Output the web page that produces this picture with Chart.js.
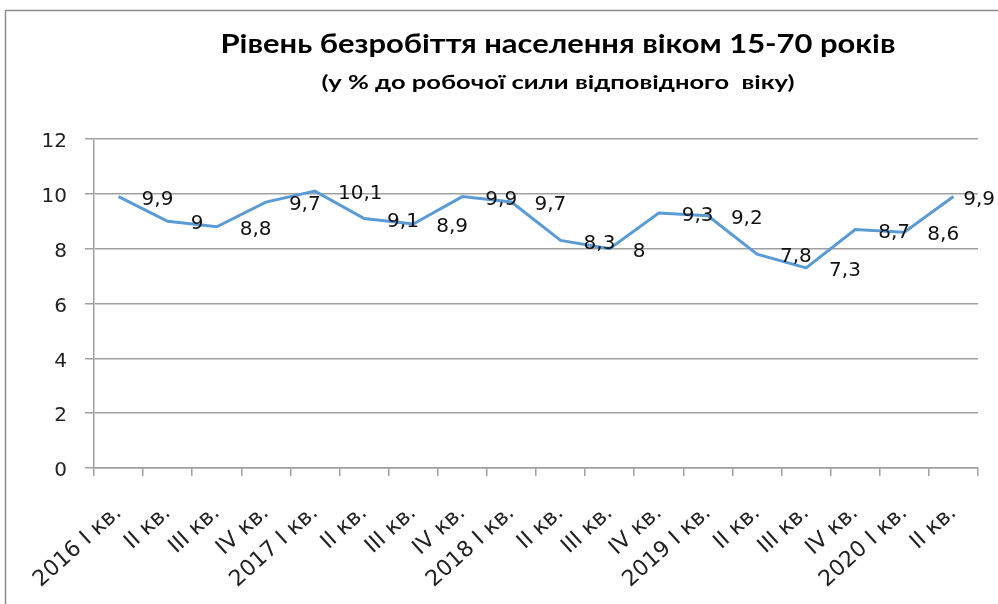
<!DOCTYPE html>
<html>
<head>
<meta charset="utf-8">
<script src="https://cdn.jsdelivr.net/npm/chart.js@4.4.1/dist/chart.umd.min.js"></script>
<style>
  html, body { margin: 0; padding: 0; background: #ffffff; }
  #wrap { width: 998px; height: 604px; position: relative; }
</style>
</head>
<body>
<div id="wrap"><canvas id="c" width="998" height="604"></canvas></div>
<script>
const titleText = 'Рівень безробіття населення віком 15-70 років';
const subtitleText = '(у % до робочої сили відповідного  віку)';
const categories = ['2016 I кв.', 'II кв.', 'III кв.', 'IV кв.', '2017 I кв.', 'II кв.', 'III кв.', 'IV кв.',
  '2018 I кв.', 'II кв.', 'III кв.', 'IV кв.', '2019 I кв.', 'II кв.', 'III кв.', 'IV кв.', '2020 I кв.', 'II кв.'];
const unemployment = [9.9, 9.0, 8.8, 9.7, 10.1, 9.1, 8.9, 9.9, 9.7, 8.3, 8.0, 9.3, 9.2, 7.8, 7.3, 8.7, 8.6, 9.9];
const yTicks = { min: 0, max: 12, step: 2 };

function fmt(v) { return String(v).replace('.', ','); }

const framePlugin = {
  id: 'frame',
  beforeDraw(chart) {
    const ctx = chart.ctx;
    ctx.save();
    ctx.fillStyle = '#ffffff';
    ctx.fillRect(0, 0, chart.width, chart.height);
    ctx.strokeStyle = '#8c8c8c';
    ctx.lineWidth = 1.5;
    ctx.strokeRect(5.5, 10.5, chart.width + 20, chart.height + 20);
    ctx.restore();
  },
  afterDraw(chart) {
    const ctx = chart.ctx;
    function drawFit(text, font, cx, cy, targetW) {
      ctx.save();
      ctx.font = font;
      ctx.fillStyle = '#000000';
      ctx.textAlign = 'center';
      ctx.textBaseline = 'alphabetic';
      const w = ctx.measureText(text).width;
      const sx = targetW / w;
      ctx.translate(cx, cy);
      ctx.scale(sx, 1);
      ctx.fillText(text, 0, 0);
      ctx.restore();
    }
    drawFit(titleText, 'bold 26px Lato', 558, 53, 675);
    drawFit(subtitleText, 'bold 18px Lato', 558, 89, 473);
  }
};

const labelPlugin = {
  id: 'valueLabels',
  afterDatasetsDraw(chart) {
    const ctx = chart.ctx;
    const meta = chart.getDatasetMeta(0);
    ctx.save();
    ctx.font = '20px "DejaVu Sans"';
    ctx.fillStyle = '#111111';
    ctx.textAlign = 'left';
    ctx.textBaseline = 'middle';
    meta.data.forEach((pt, i) => {
      const txt = fmt(chart.data.datasets[0].data[i]);
      const w = ctx.measureText(txt).width;
      let x = pt.x + 23;
      if (x + w > chart.width - 3) x = chart.width - 3 - w;
      ctx.fillText(txt, x, pt.y + 3);
    });
    ctx.restore();
  }
};

new Chart(document.getElementById('c'), {
  type: 'line',
  data: {
    labels: categories,
    datasets: [{
      data: unemployment,
      borderColor: '#5B9BD5',
      backgroundColor: '#5B9BD5',
      borderWidth: 3,
      pointRadius: 0,
      tension: 0,
      fill: false
    }]
  },
  options: {
    responsive: false,
    animation: false,
    devicePixelRatio: 1,
    layout: { padding: { top: 139, right: 20, left: 0, bottom: 0 } },
    plugins: {
      legend: { display: false },
      title: { display: false },
      tooltip: { enabled: false }
    },
    scales: {
      x: {
        type: 'category',
        offset: true,
        grid: { display: true, drawOnChartArea: false, drawTicks: true, tickLength: 8, color: '#a0a0a0', lineWidth: 1.5, offset: true },
        border: { display: true, color: '#a0a0a0', width: 1.5 },
        ticks: {
          autoSkip: false, minRotation: 42, maxRotation: 42, padding: 24,
          color: '#222222', font: { family: '"DejaVu Sans"', size: 22 }
        },
        afterFit(scale) { scale.height = 136; }
      },
      y: {
        min: yTicks.min, max: yTicks.max,
        grid: { color: '#a0a0a0', lineWidth: 1.5, tickLength: 9, drawTicks: true },
        border: { display: true, color: '#a0a0a0', width: 1.5 },
        ticks: {
          stepSize: yTicks.step, padding: 18, labelOffset: 3,
          color: '#222222', font: { family: '"DejaVu Sans"', size: 20 }
        },
        afterFit(scale) { scale.width = 94; }
      }
    }
  },
  plugins: [framePlugin, labelPlugin]
});
</script>
</body>
</html>
